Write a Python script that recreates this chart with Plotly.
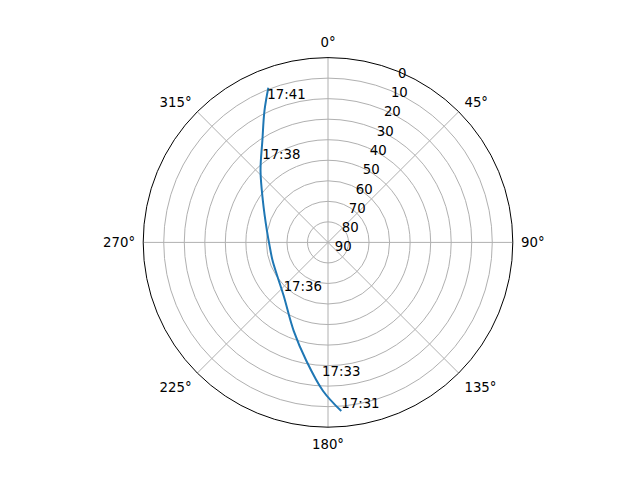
import plotly.graph_objects as go

# Satellite pass: azimuth (deg, clockwise from north) and elevation (deg)
azimuth = [175.5, 181.9, 190.3, 201.2, 219.7, 236.7, 252.4, 266.8, 280.9, 302.7, 316.8, 327.2, 334.3, 338.9]
elevation = [7.6, 17.6, 31.3, 43.8, 56.2, 60.4, 61.6, 61.5, 59.7, 52.3, 42.0, 31.0, 18.7, 9.3]

label_times = ["17:31", "17:33", "17:36", "17:38", "17:41"]
label_az = [175.5, 182.5, 220.6, 320.6, 336.6]
label_el = [7.6, 23.3, 56.8, 39.5, 15.6]

elev_ticks = [0, 10, 20, 30, 40, 50, 60, 70, 80, 90]
az_ticks = [0, 45, 90, 135, 180, 225, 270, 315]

zen = [90 - e for e in elevation]
label_zen = [90 - e for e in label_el]

font = dict(family="DejaVu Sans", size=13.3, color="black")

fig = go.Figure()
fig.add_trace(go.Scatterpolar(
    r=zen, theta=azimuth, mode="lines",
    line=dict(color="#1f77b4", width=2, shape="spline", smoothing=1),
    showlegend=False, hoverinfo="skip"))
fig.add_trace(go.Scatterpolar(
    r=label_zen, theta=label_az, mode="text", text=label_times,
    textposition="top right", textfont=font,
    showlegend=False, hoverinfo="skip"))

fig.update_layout(
    width=640, height=480,
    margin=dict(l=0, r=0, t=0, b=0),
    paper_bgcolor="white",
    font=font,
    polar=dict(
        domain=dict(x=[0.125, 0.9], y=[0.11, 0.88]),
        bgcolor="white",
        angularaxis=dict(
            rotation=90, direction="clockwise",
            tickvals=az_ticks, ticktext=[f"{a}°" for a in az_ticks],
            ticks="outside", ticklen=5, tickcolor="rgba(0,0,0,0)",
            showline=True, linecolor="black", linewidth=1,
            gridcolor="#b0b0b0", gridwidth=1, tickfont=font),
        radialaxis=dict(
            range=[0, 90], tickvals=[90 - e for e in elev_ticks],
            ticktext=[str(e) for e in elev_ticks],
            angle=70, tickangle=70, side="clockwise",
            showline=False, ticks="",
            gridcolor="#b0b0b0", gridwidth=1, tickfont=font),
    ),
)
fig.write_html("out.html", config={"displayModeBar": False},
               post_script="document.body.style.margin='0';")
